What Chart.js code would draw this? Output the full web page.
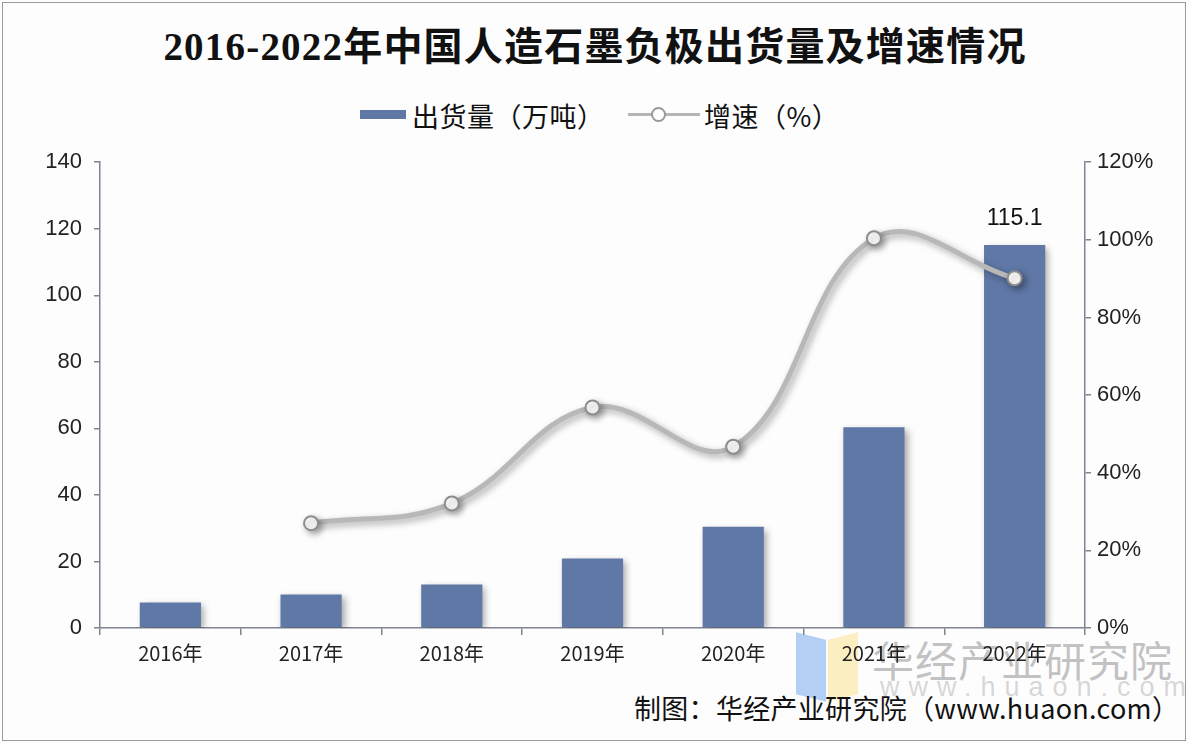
<!DOCTYPE html>
<html>
<head>
<meta charset="utf-8">
<script src="https://cdn.jsdelivr.net/npm/chart.js@4"></script>
<style>
    html, body { margin: 0; padding: 0; background: #fff; }
    #wrap { position: relative; width: 1190px; height: 744px; overflow: hidden; background: #fdfdfe;
        font-family: "Noto Sans CJK SC", "Noto Sans", sans-serif; }
    #frame { position: absolute; left: 2px; top: 2px; width: 1182px; height: 737px; border: 1px solid #9a9a9a; }
    #title { position: absolute; left: 0; width: 1190px; top: 15px; text-align: center;
        font-family: "Liberation Serif", "Noto Sans CJK SC", serif;
        font-size: 39px; font-weight: bold; color: #111; letter-spacing: 1.2px; }
    .leg { position: absolute; top: 97px; font-size: 27px; color: #111; line-height: 38px; letter-spacing: 0.5px; }
    #leg-bar-sw { position: absolute; left: 360px; top: 110px; width: 46px; height: 9px; background: #5f78a6; }
    #leg-line-sw { position: absolute; left: 628px; top: 113px; width: 72px; height: 3px; background: #b5b5b5; }
    #leg-line-pt { position: absolute; left: 651px; top: 107px; width: 11px; height: 11px; border-radius: 50%;
        background: #fff; border: 2px solid #999; }
    #footer { position: absolute; left: 634px; top: 688px; font-size: 27px; color: #111; letter-spacing: 0.3px; }
    #wm1 { position: absolute; left: 872px; top: 628px; font-size: 42px; color: rgba(120,120,120,0.45); letter-spacing: 1px; }
    #wm2 { position: absolute; left: 880px; top: 672px; font-size: 27px; color: rgba(140,140,140,0.35); letter-spacing: 9px; font-family: "Liberation Sans", sans-serif; }
    #logo1 { position: absolute; left: 796px; top: 636px; width: 30px; height: 62px; background: rgba(120,170,235,0.55); transform: skewY(14deg); }
    #logo2 { position: absolute; left: 828px; top: 636px; width: 30px; height: 62px; background: rgba(250,225,140,0.55); transform: skewY(-14deg); }
    #chartBox { position: absolute; left: 0; top: 137px; width: 1190px; height: 536px; }
</style>
</head>
<body>
<div id="wrap">
    <div id="frame"></div>
    <div id="title">2016-2022年中国人造石墨负极出货量及增速情况</div>
    <div id="leg-bar-sw"></div>
    <div class="leg" style="left:412px;">出货量（万吨）</div>
    <div id="leg-line-sw"></div>
    <div id="leg-line-pt"></div>
    <div class="leg" style="left:704px;">增速（%）</div>
    <div id="logo1"></div>
    <div id="logo2"></div>
    <div id="wm1">华经产业研究院</div>
    <div id="wm2">www.huaon.com</div>
    <div id="chartBox"><canvas id="chart"></canvas></div>
    <div id="footer">制图：华经产业研究院（www.huaon.com）</div>
</div>
<script>
    // data
    const years = ['2016年', '2017年', '2018年', '2019年', '2020年', '2021年', '2022年'];
    const shipments = [7.7, 10.1, 13.1, 20.9, 30.4, 60.3, 115.1];   // 万吨
    const growth = [null, 27.0, 32.1, 56.8, 46.7, 100.4, 90.1];      // %
    const leftTicks = [0, 140, 20];   // min, max, step
    const rightTicks = [0, 120, 20];

    const axisColor = '#7f8490';

    // soft drop shadow under bars and line, like the office chart
    const shadowPlugin = {
        id: 'shadow',
        beforeDatasetDraw(chart) {
            const ctx = chart.ctx;
            ctx.save();
            ctx.shadowColor = 'rgba(0,0,0,0.35)';
            ctx.shadowBlur = 7;
            ctx.shadowOffsetX = 3;
            ctx.shadowOffsetY = 3;
        },
        afterDatasetDraw(chart) {
            chart.ctx.restore();
        }
    };

    // value label only over the last bar
    const lastLabelPlugin = {
        id: 'lastLabel',
        afterDatasetsDraw(chart) {
            const meta = chart.getDatasetMeta(1);
            const i = shipments.length - 1;
            const bar = meta.data[i];
            if (!bar) return;
            const ctx = chart.ctx;
            ctx.save();
            ctx.font = '23px "Liberation Sans", Arial, sans-serif';
            ctx.fillStyle = '#111';
            ctx.textAlign = 'center';
            ctx.textBaseline = 'bottom';
            ctx.fillText(shipments[i].toFixed(1), bar.x, bar.y - 15);
            ctx.restore();
        }
    };

    const tickFont = { family: '"Liberation Sans", Arial, sans-serif', size: 22 };

    new Chart(document.getElementById('chart'), {
        type: 'bar',
        data: {
            labels: years,
            datasets: [
                {
                    type: 'line',
                    label: '增速（%）',
                    data: growth,
                    yAxisID: 'y1',
                    borderColor: '#b8b8b8',
                    borderWidth: 5,
                    tension: 0.4,
                    pointRadius: 7,
                    pointBackgroundColor: '#fff',
                    pointBorderColor: '#8d8d8d',
                    pointBorderWidth: 2,
                    spanGaps: false,
                    order: 1
                },
                {
                    label: '出货量（万吨）',
                    data: shipments,
                    yAxisID: 'y',
                    backgroundColor: '#5f78a6',
                    barPercentage: 0.87,
                    categoryPercentage: 0.5,
                    order: 2
                }
            ]
        },
        options: {
            responsive: true,
            maintainAspectRatio: false,
            animation: false,
            layout: { padding: { top: 17, left: 0, right: 0, bottom: 0 } },
            plugins: { legend: { display: false }, tooltip: { enabled: false } },
            scales: {
                x: {
                    grid: { offset: true, drawOnChartArea: false, drawTicks: true, tickLength: 7, color: axisColor, lineWidth: 1.5 },
                    border: { color: axisColor, width: 1.5 },
                    ticks: { font: { family: '"Noto Sans CJK SC", sans-serif', size: 20 }, color: '#222', padding: 6 },
                    afterFit(s) { s.height = 45; }
                },
                y: {
                    position: 'left',
                    min: leftTicks[0], max: leftTicks[1],
                    ticks: { stepSize: leftTicks[2], font: tickFont, color: '#222', padding: 12 },
                    grid: { drawOnChartArea: false, drawTicks: true, tickLength: 6, color: axisColor, lineWidth: 1.5 },
                    border: { color: axisColor, width: 1.5 },
                    afterFit(s) { s.width = 100; }
                },
                y1: {
                    position: 'right',
                    min: rightTicks[0], max: rightTicks[1],
                    ticks: { stepSize: rightTicks[2], font: tickFont, color: '#222', padding: 6,
                        callback: v => v + '%' },
                    grid: { drawOnChartArea: false, drawTicks: true, tickLength: 6, color: axisColor, lineWidth: 1.5 },
                    border: { color: axisColor, width: 1.5 },
                    afterFit(s) { s.width = 105; }
                }
            }
        },
        plugins: [shadowPlugin, lastLabelPlugin]
    });
</script>
</body>
</html>
